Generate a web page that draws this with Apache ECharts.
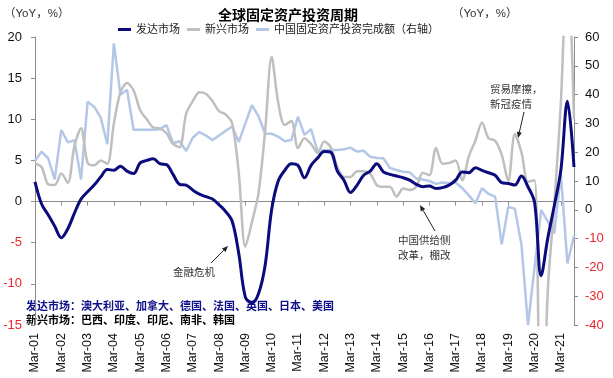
<!DOCTYPE html>
<html>
<head>
<meta charset="utf-8">
<script src="https://cdn.jsdelivr.net/npm/echarts@6/dist/echarts.min.js"></script>
<style>
  html, body { margin: 0; padding: 0; background: #fff; }
  #chart { width: 613px; height: 378px; }
</style>
</head>
<body>
<div id="chart"></div>
<script>
// quarterly points, Mar-01 .. Sep-21
const years = ["01","02","03","04","05","06","07","08","09","10","11","12","13","14","15","16","17","18","19","20","21"];
const months = ["Mar", "Jun", "Sep", "Dec"];
const categories = [];
years.forEach(y => months.forEach(m => categories.push(m + "-" + y)));
categories.length = 83;

// 发达市场 (left axis)
const developed = [
  2.4, -0.3, -1.6, -3.0, -4.4, -3.3, -1.4, 0.3, 1.2, 2.0,
  3.0, 3.9, 3.8, 4.3, 3.7, 3.4, 4.7, 5.0, 5.2, 4.6,
  4.5, 3.3, 2.1, 2.0, 1.4, 0.9, 0.6, 0.3, -0.4, -1.2,
  -2.4, -6.3, -11.6, -12.3, -11.2, -7.8, -1.0, 2.5, 3.8, 4.6,
  4.4, 2.9, 4.4, 5.3, 6.1, 6.0, 3.7, 2.6, 1.1, 2.0,
  3.2, 3.7, 4.6, 3.6, 3.3, 3.1, 2.9, 2.6, 2.1, 1.8,
  1.9, 1.6, 1.7, 2.0, 2.6, 3.6, 3.5, 4.1, 3.8, 3.5,
  3.2, 2.3, 2.2, 2.0, 3.1, 1.8, -0.1, -9.0, -4.5, -0.5,
  3.8, 12.2, 4.2
];

// 新兴市场 (left axis)
const emerging = [
  4.6, 4.2, 2.1, 2.0, 3.4, 2.3, 6.8, 8.9, 4.7, 4.4,
  5.0, 4.6, 9.5, 13.3, 14.4, 13.5, 11.1, 10.0, 9.0, 8.9,
  8.3, 7.0, 6.6, 10.7, 12.2, 13.3, 13.1, 12.2, 11.0, 10.6,
  9.5, 3.5, -5.5, -2.5, 1.0, 8.5, 17.6, 12.0, 9.3, 9.8,
  6.5, 7.7, 7.0, 5.9, 7.3, 6.6, 4.2, 3.0, 3.0, 3.7,
  3.7, 3.4, 2.0, 1.8, 1.8, 0.6, 1.6, 1.4, 1.8, 3.5,
  3.2, 6.5, 4.6, 4.7, 5.0, 2.6, 5.5, 7.4, 9.6, 7.7,
  7.4, 5.7, 2.5, 8.2, 6.0, 2.4, 2.6, -35, -11, -0.3,
  12, 30, 10
];

// 中国固定资产投资完成额 (right axis)
const chinaFai = [
  17, 20.2, 17.9, 10.6, 27.7, 23.4, 24.2, 10.5, 37.5, 35.8,
  32, 22.8, 57.8, 39.9, 41.7, 27.8, 27.8, 27.8, 27.8, 28,
  29.4, 23.1, 23.8, 20.4, 25, 27.0, 25.8, 24.2, 25.8, 27.4,
  28.9, 23.6, 30, 36.3, 32.5, 26.5, 26.4, 25.4, 23.8, 24.2,
  32.3, 26, 28, 20.2, 20.8, 20.8, 20.8, 21, 21.6, 20.2,
  20.5, 18.4, 18, 17.9, 14.5, 13.8, 13.2, 13.0, 10.9, 10.5,
  10.0, 9.0, 9.5, 9.2, 9.5, 7.5, 5, 2.3, 7.5, 5.5,
  4.6, -12, 1.0, 0.4, -12, -40, -20, 0, -4, -8.2,
  12.5, -18.6, -9
];

const leftTicks = { min: -15, max: 20, interval: 5 };
const rightTicks = { min: -40, max: 60, interval: 10 };

const FONT = '"Liberation Sans", "Noto Sans CJK SC", sans-serif';
const NAVY = "#0b0b7d";
const GRAY = "#bfbfbf";
const LIGHT = "#b4c7e7";

function arrow(x1, y1, x2, y2) {
  const a = Math.atan2(y2 - y1, x2 - x1);
  const L = 6, W = 2.6;
  const bx = x2 - L * Math.cos(a), by = y2 - L * Math.sin(a);
  return [
    { type: "line", shape: { x1: x1, y1: y1, x2: bx, y2: by }, style: { stroke: "#222", lineWidth: 1 } },
    { type: "polygon", shape: { points: [[x2, y2], [bx + W * Math.sin(a), by - W * Math.cos(a)], [bx - W * Math.sin(a), by + W * Math.cos(a)]] }, style: { fill: "#222" } }
  ];
}

function txt(x, y, text, opt) {
  return {
    type: "text", x: x, y: y,
    style: Object.assign({ text: text, fontSize: 10.5, fontFamily: FONT, fill: "#333", verticalAlign: "middle" }, opt || {})
  };
}

const chart = echarts.init(document.getElementById("chart"));
chart.setOption({
  animation: false,
  title: {
    text: "全球固定资产投资周期",
    left: 213,
    top: 4,
    textStyle: { fontSize: 14, fontWeight: "bold", color: "#000", fontFamily: FONT }
  },
  legend: {
    left: 113,
    top: 19,
    itemWidth: 13,
    itemHeight: 3,
    itemGap: 7,
    icon: "rect",
    data: ["发达市场", "新兴市场", "中国固定资产投资完成额（右轴）"],
    textStyle: { fontSize: 11, color: "#222", fontFamily: FONT }
  },
  grid: { left: 35, right: 39, top: 37, bottom: 53 },
  xAxis: [
    {
      type: "category",
      data: categories,
      boundaryGap: false,
      position: "bottom",
      axisLine: { show: false, onZero: false },
      axisTick: { show: false },
      splitLine: { show: false },
      axisLabel: { interval: 3, rotate: 90, margin: 8, fontSize: 12.5, color: "#111", fontFamily: FONT }
    },
    {
      type: "category",
      data: categories,
      boundaryGap: false,
      position: "bottom",
      axisLine: { show: true, onZero: true, onZeroAxisIndex: 0, lineStyle: { color: "#8c8c8c", width: 1 } },
      axisTick: { show: true, interval: 3, length: 4, lineStyle: { color: "#8c8c8c" } },
      axisLabel: { show: false },
      splitLine: { show: false }
    }
  ],
  yAxis: [
    {
      type: "value",
      min: leftTicks.min, max: leftTicks.max, interval: leftTicks.interval,
      axisLine: { show: true, lineStyle: { color: "#8c8c8c" } },
      axisTick: { show: true, length: 4, lineStyle: { color: "#8c8c8c" } },
      splitLine: { show: false },
      axisLabel: {
        margin: 13, fontSize: 13, fontFamily: FONT,
        color: v => (Number(v) < 0 ? "#e8262b" : "#111")
      }
    },
    {
      type: "value",
      position: "right",
      min: rightTicks.min, max: rightTicks.max, interval: rightTicks.interval,
      axisLine: { show: true, lineStyle: { color: "#8c8c8c" } },
      axisTick: { show: true, length: 4, lineStyle: { color: "#8c8c8c" } },
      splitLine: { show: false },
      axisLabel: {
        margin: 11, fontSize: 13, fontFamily: FONT,
        color: v => (Number(v) < 0 ? "#e8262b" : "#111")
      }
    }
  ],
  series: [
    {
      name: "发达市场", type: "line", data: developed, yAxisIndex: 0,
      smooth: 0.35, symbol: "none", z: 4,
      lineStyle: { color: NAVY, width: 3 }, itemStyle: { color: NAVY }
    },
    {
      name: "新兴市场", type: "line", data: emerging, yAxisIndex: 0,
      smooth: 0.3, symbol: "none", z: 3,
      lineStyle: { color: GRAY, width: 2.5 }, itemStyle: { color: GRAY }
    },
    {
      name: "中国固定资产投资完成额（右轴）", type: "line", data: chinaFai, yAxisIndex: 1,
      symbol: "none", z: 2,
      lineStyle: { color: LIGHT, width: 2.5 }, itemStyle: { color: LIGHT }
    }
  ],
  graphic: [
    txt(4, 14, "（YoY，%）", { fontSize: 11.5 }),
    txt(452, 14, "（YoY，%）", { fontSize: 11.5 }),
    txt(173, 273, "金融危机"),
    ...arrow(211, 263, 228, 246),
    txt(398, 241, "中国供给侧"),
    txt(398, 256, "改革，棚改"),
    ...arrow(435, 231, 420, 205),
    txt(490, 90, "贸易摩擦，"),
    txt(490, 105, "新冠疫情"),
    ...arrow(524, 112, 518, 138),
    txt(26, 307, "发达市场：澳大利亚、加拿大、德国、法国、英国、日本、美国", { fontSize: 11, fontWeight: "bold", fill: "#10108a" }),
    txt(26, 321, "新兴市场：巴西、印度、印尼、南非、韩国", { fontSize: 11, fontWeight: "bold", fill: "#000" })
  ]
});
</script>
</body>
</html>
